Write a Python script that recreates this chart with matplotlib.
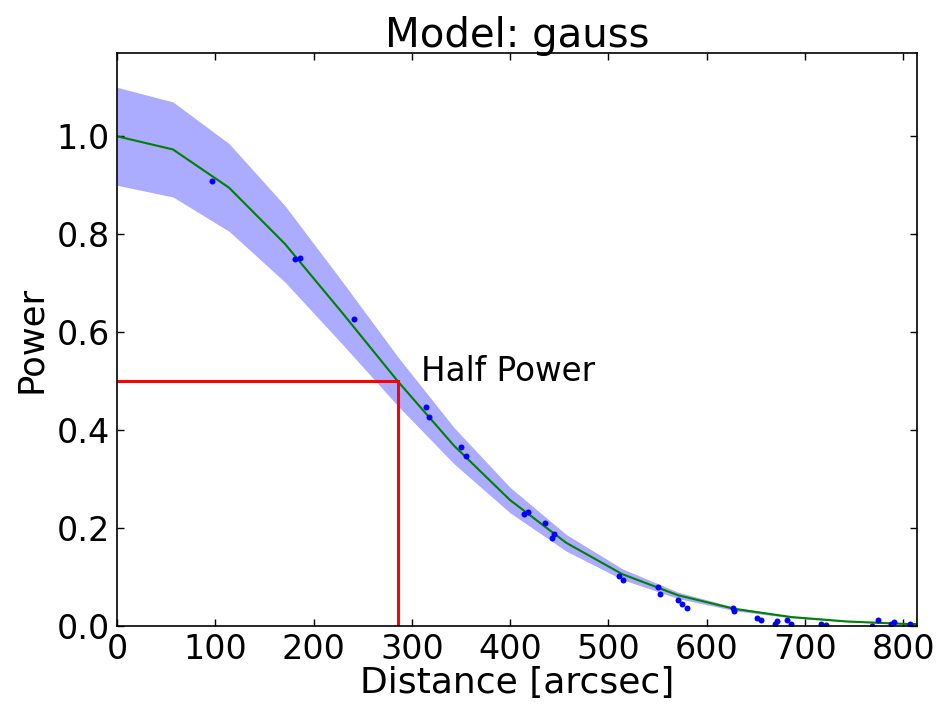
import matplotlib
matplotlib.use("Agg")
import matplotlib.pyplot as plt

# Model curve (vertices)
model_x = [0, 57, 114, 171, 229, 286, 343, 400, 457, 514, 571, 629, 686, 743, 800, 857]
model_y = [1.000, 0.973, 0.895, 0.780, 0.640, 0.499, 0.368, 0.257, 0.170, 0.106,
           0.0627, 0.0347, 0.0183, 0.0092, 0.0044, 0.0020]
band_upper = [1.100, 1.070, 0.985, 0.858, 0.704, 0.549, 0.405, 0.283, 0.187, 0.117,
              0.069, 0.038, 0.020, 0.010, 0.0048, 0.0021]
band_lower = [0.900, 0.876, 0.806, 0.702, 0.576, 0.449, 0.331, 0.231, 0.153, 0.095,
              0.056, 0.031, 0.0165, 0.0083, 0.0039, 0.0018]

# Measured points
pts_x = [96.7, 181, 186, 241, 314, 317, 350, 355, 414, 418, 435.5, 444.7, 443,
         510.5, 515, 550, 553, 571, 575, 580, 627, 628, 651, 655, 670, 672, 682, 686,
         716, 721, 768.5, 774, 788, 791, 807]
pts_y = [0.908, 0.750, 0.752, 0.626, 0.447, 0.426, 0.365, 0.348, 0.229, 0.233, 0.211,
         0.188, 0.179, 0.102, 0.094, 0.080, 0.065, 0.053, 0.044, 0.037, 0.036, 0.031,
         0.016, 0.012, 0.004, 0.010, 0.012, 0.005, 0.005, 0.003, 0.001, 0.012, 0.005,
         0.008, 0.004]

half_x = 285.5
half_y = 0.5
x_max = 814
y_max = 1.17

fig = plt.figure(figsize=(9.39, 7.07), dpi=100)
ax = fig.add_axes([117/939, 1-626/707, (917-117)/939, (626-53)/707])

ax.fill_between(model_x, band_lower, band_upper, color=(0.0, 0.0, 1.0), alpha=0.33, linewidth=0)
ax.plot(model_x, model_y, color=(0.0, 0.5, 0.0), linewidth=1.5)
ax.plot(pts_x, pts_y, 'o', color='b', markersize=4.3, markeredgewidth=0)
ax.plot([0, half_x], [half_y, half_y], color='r', linewidth=2.2)
ax.plot([half_x, half_x], [0, half_y], color='r', linewidth=2.2)
ax.text(half_x + 24, half_y, 'Half Power', fontsize=23.5, va='baseline', ha='left')

ax.set_xlim(0, x_max)
ax.set_ylim(0, y_max)
ax.set_xticks([0, 100, 200, 300, 400, 500, 600, 700, 800])
ax.set_yticks([0.0, 0.2, 0.4, 0.6, 0.8, 1.0])
ax.set_yticklabels(['0.0', '0.2', '0.4', '0.6', '0.8', '1.0'])
ax.tick_params(direction='in', top=True, right=True, length=5, width=1, labelsize=24, pad=5)
for s in ax.spines.values():
    s.set_linewidth(1.2)

ax.set_xlabel('Distance [arcsec]', fontsize=26, labelpad=0)
ax.set_ylabel('Power', fontsize=25.5, labelpad=6)
ax.set_title('Model: gauss', fontsize=29, pad=4)

fig.savefig('out.png', dpi=100)
